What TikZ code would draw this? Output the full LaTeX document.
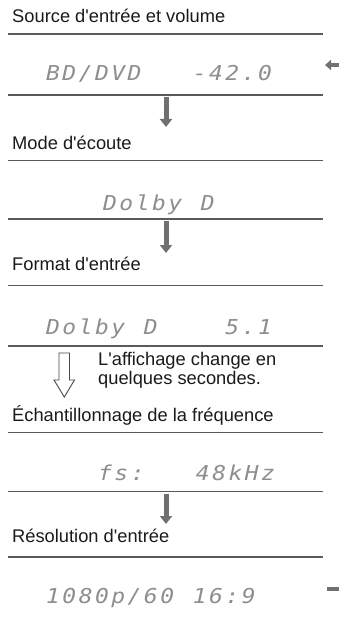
\documentclass[tikz,border=0pt]{standalone}
\usepackage{fontspec}
\newfontfamily\lsans{Liberation Sans}
\newfontfamily\dmfont{DejaVu Sans Mono}[FakeStretch=1.12]
\usetikzlibrary{arrows.meta}
\definecolor{rulec}{HTML}{5A5A5A}
\definecolor{arrowc}{HTML}{707070}
\definecolor{dmc}{HTML}{8E8E8E}
\definecolor{txt}{HTML}{1A1A1A}
\def\dmend{\dmend}
\def\dmloop#1{\ifx#1\dmend\else\makebox[16.3pt][l]{#1}\expandafter\dmloop\fi}
\newcommand\dmtext[1]{\dmloop#1\dmend}
\tikzset{
  title/.style={anchor=base west, inner sep=0pt, text=txt, font=\lsans\fontsize{18.3}{21}\selectfont},
  disp/.style={anchor=base west, inner sep=0pt, text=dmc, font=\dmfont\itshape\fontsize{20.5}{24}\selectfont},
  hrule/.style={draw=rulec, line width=1.3pt},
  fillarrow/.style={draw=arrowc, line width=5pt, -{Triangle[width=12pt,length=8pt]}},
  outarrow/.style={draw=txt!80, line width=0.9pt, fill=white, line join=miter},
}
\begin{document}
\begin{tikzpicture}[x=1pt,y=-1pt]
\useasboundingbox (0,0) rectangle (339,617);
% section 1
\node[title] (t1) at (12,22.7) {Source d'entrée et volume};
\draw[hrule] (8,34) coordinate (r1a) -- (323,34) coordinate (r1b);
\node[disp] (d1) at (46,80.5) {\dmtext{BD/DVD~~~-42.0}};
\draw[hrule] (8,95) coordinate (r2a) -- (323,95) coordinate (r2b);
\coordinate (a1s) at (166,97);
\coordinate (a1e) at (166,127);
\draw[fillarrow] (a1s) -- (a1e);
% section 2
\node[title] (t2) at (12,149.5) {Mode d'écoute};
\draw[hrule] (8,160.5) -- (323,160.5);
\node[disp] (d2) at (103,210.5) {\dmtext{Dolby~D}};
\draw[hrule] (8,219) -- (323,219);
\coordinate (a2s) at (166,221);
\coordinate (a2e) at (166,253);
\draw[fillarrow] (a2s) -- (a2e);
% section 3
\node[title] (t3) at (12,270.5) {Format d'entrée};
\draw[hrule] (8,285.7) -- (323,285.7);
\node[disp] (d3) at (46,334.5) {\dmtext{Dolby~D~~~~5.1}};
\draw[hrule] (8,346) -- (323,346);
\draw[outarrow] (59,353) -- (69.5,353) -- (69.5,380) -- (74.5,380) -- (64.3,397)
  -- (54,380) -- (59,380) -- cycle;
\node[title] (n1) at (98,365.5) {L'affichage change en};
\node[title] (n2) at (98,384) {quelques secondes.};
% section 4
\node[title] (t4) at (12,421.7) {Échantillonnage de la fréquence};
\draw[hrule] (8,432.7) -- (323,432.7);
\node[disp] (d4) at (98,480.5) {\dmtext{fs:~~~48kHz}};
\draw[hrule] (8,491.7) -- (323,491.7);
\coordinate (a3s) at (166,494);
\coordinate (a3e) at (166,524);
\draw[fillarrow] (a3s) -- (a3e);
% section 5
\node[title] (t5) at (12,542) {Résolution d'entrée};
\draw[hrule] (8,557) -- (323,557);
\node[disp] (d5) at (46,603) {\dmtext{1080p/60~16:9}};
% right-edge fragments
\coordinate (e1s) at (345,65);
\coordinate (e1e) at (325,65);
\draw[draw=arrowc, line width=4pt, -{Triangle[width=10pt,length=6pt]}] (e1s) -- (e1e);
\coordinate (e2s) at (327,589);
\coordinate (e2e) at (345,589);
\draw[draw=arrowc, line width=4.5pt] (e2s) -- (e2e);
\end{tikzpicture}
\end{document}
